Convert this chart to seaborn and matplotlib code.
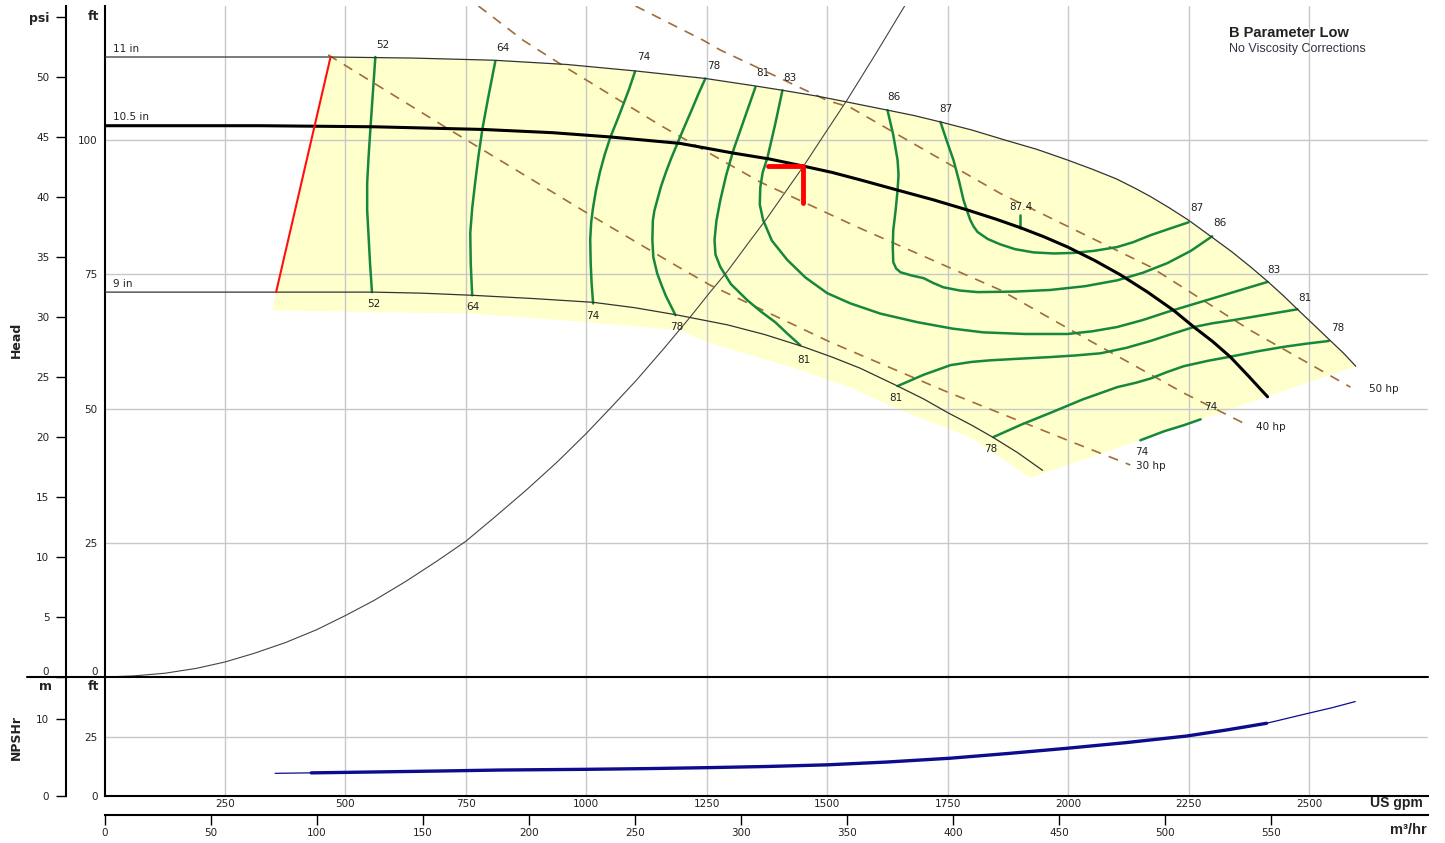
import matplotlib.pyplot as plt
import matplotlib.lines as mlines
import seaborn as sns

# =============================== #
# data (flow in US gpm, head in ft)
# =============================== #
imp11_q = [0, 470, 640, 807, 960, 1102, 1247, 1351, 1407, 1480, 1542, 1625, 1680, 1735, 1800, 1870, 1935,
           1999, 2050, 2100, 2140, 2171, 2210, 2250, 2296, 2340, 2380, 2414, 2446, 2476, 2510, 2545, 2572, 2597]
imp11_h = [115.5, 115.5, 115.3, 114.9, 114.1, 112.9, 111.5, 110.1, 109.3, 108.2, 107.1, 105.6, 104.6, 103.4,
           101.9, 100.0, 98.3, 96.3, 94.6, 92.8, 91.0, 89.5, 87.4, 85.1, 82.1, 79.2, 76.3, 73.7, 71.1, 68.5,
           65.6, 62.6, 60.3, 57.9]

imp105_q = [0, 323, 560, 786, 930, 1050, 1195, 1305, 1380, 1444, 1510, 1569, 1646, 1720, 1791, 1850, 1901,
            1950, 1999, 2055, 2109, 2165, 2219, 2261, 2300, 2337, 2375, 2414]
imp105_h = [102.7, 102.7, 102.5, 102.0, 101.4, 100.6, 99.4, 97.6, 96.5, 95.3, 94.0, 92.6, 90.7, 88.9, 87.0,
            85.3, 83.7, 82.0, 80.1, 77.6, 74.9, 71.7, 68.3, 65.2, 62.5, 59.6, 56.0, 52.2]

imp9_q = [0, 558, 660, 765, 890, 1014, 1100, 1185, 1293, 1370, 1451, 1510, 1569, 1646, 1700, 1749, 1800,
          1843, 1895, 1947]
imp9_h = [71.7, 71.7, 71.5, 71.1, 70.5, 69.8, 68.8, 67.5, 65.6, 63.8, 61.5, 59.6, 57.5, 54.2, 51.8, 49.3,
          46.9, 44.7, 41.8, 38.5]

minflow_q = [356, 469]
minflow_h = [71.7, 115.5]

# lower edge of the shaded region (right to left)
shade_low_q = [2597, 1921, 1800, 1652, 1550, 1444, 1340, 1251, 1195, 1029, 765, 348]
shade_low_h = [57.9, 37.1, 44.5, 49.7, 53.8, 57.2, 60.0, 62.4, 64.6, 65.9, 67.7, 68.3]

system_q = [0, 60, 125, 190, 250, 310, 375, 440, 501, 560, 625, 690, 750, 810, 875, 940, 999, 1050, 1103,
            1160, 1216, 1255, 1293, 1335, 1376, 1415, 1451, 1500, 1542, 1600, 1662]
system_h = [0, 0.2, 0.7, 1.6, 2.8, 4.4, 6.4, 8.8, 11.5, 14.3, 17.8, 21.6, 25.3, 29.8, 34.8, 40.1, 45.3,
            50.1, 55.2, 61.1, 67.1, 71.5, 75.6, 80.7, 85.6, 90.6, 95.2, 101.9, 107.6, 116.0, 125.2]

# efficiency contours
eff52_q = [562, 557, 552, 548, 545, 545, 548, 551, 555]
eff52_h = [115.5, 109.0, 102.5, 97.0, 92.0, 87.0, 82.0, 77.0, 71.7]
eff64_q = [811, 797, 784, 776, 769, 763, 759, 760, 763]
eff64_h = [114.7, 108.3, 102.0, 97.0, 92.0, 87.3, 82.7, 77.0, 71.1]
eff74_q = [1101, 1089, 1076, 1063, 1050, 1038, 1028, 1020, 1014, 1010, 1008, 1009, 1011, 1014]
eff74_h = [112.8, 109.6, 106.5, 103.5, 100.6, 97.3, 94.0, 90.7, 87.5, 84.7, 81.5, 77.0, 73.2, 69.6]
eff78_q = [1247, 1232, 1218, 1203, 1189, 1176, 1165, 1155, 1147, 1141, 1138, 1137, 1139, 1147, 1156, 1165,
           1175, 1185]
eff78_h = [111.5, 108.5, 105.5, 102.4, 99.4, 96.6, 94.0, 91.4, 88.8, 86.8, 85.0, 81.4, 78.2, 75.2, 73.0,
           71.0, 69.2, 67.4]
eff81_q = [1351, 1328, 1305, 1290, 1278, 1270, 1266, 1268, 1278, 1300, 1334, 1362, 1392, 1418, 1444]
eff81_h = [109.9, 104.0, 98.1, 93.4, 88.8, 85.0, 81.4, 78.7, 76.4, 73.2, 70.2, 68.1, 66.1, 63.9, 61.8]
eff83_q = [1407, 1392, 1376, 1366, 1361, 1360, 1367, 1385, 1417, 1455, 1500, 1548, 1610, 1687, 1760, 1824,
           1910, 1999, 2050, 2102, 2155, 2206, 2258, 2310, 2362, 2414]
eff83_h = [109.3, 103.0, 96.8, 94.0, 91.2, 88.0, 85.1, 81.3, 77.7, 74.4, 71.5, 69.6, 67.7, 66.1, 64.9, 64.2,
           63.9, 63.9, 64.4, 65.2, 66.5, 68.0, 69.4, 70.8, 72.2, 73.6]
eff86_q = [1625, 1637, 1646, 1648, 1646, 1642, 1637, 1636, 1637, 1643, 1652, 1675, 1700, 1720, 1741, 1775,
           1812, 1890, 1963, 2035, 2102, 2155, 2206, 2255, 2299]
eff86_h = [105.6, 101.0, 96.3, 93.5, 90.7, 87.0, 83.2, 80.2, 77.3, 76.1, 75.4, 74.8, 74.3, 73.4, 72.6, 72.0,
           71.7, 71.8, 72.1, 72.8, 73.9, 75.3, 77.1, 79.4, 82.1]
eff87_q = [1735, 1748, 1762, 1773, 1783, 1790, 1797, 1804, 1812, 1833, 1859, 1890, 1928, 1970, 2011, 2055,
           2102, 2135, 2171, 2210, 2250]
eff87_h = [103.4, 99.9, 96.3, 92.6, 88.8, 86.9, 85.1, 83.9, 82.9, 81.6, 80.6, 79.7, 79.1, 78.9, 79.0, 79.4,
           80.1, 81.0, 82.3, 83.5, 84.7]
eff874_q = [1901, 1901]
eff874_h = [86.0, 83.6]
eff81r_q = [1646, 1700, 1756, 1800, 1839, 1900, 1963, 2015, 2067, 2120, 2171, 2215, 2261, 2300, 2344, 2410, 2476]
eff81r_h = [54.2, 56.3, 58.1, 58.7, 59.0, 59.3, 59.6, 59.9, 60.3, 61.3, 62.6, 63.9, 65.2, 65.9, 66.5, 67.5, 68.5]
eff78r_q = [1845, 1905, 1963, 2030, 2102, 2140, 2171, 2205, 2240, 2290, 2344, 2395, 2447, 2495, 2541]
eff78r_h = [44.7, 47.1, 49.2, 51.7, 54.0, 54.8, 55.6, 56.8, 57.9, 58.9, 59.8, 60.7, 61.5, 62.1, 62.6]
eff74r_q = [2150, 2200, 2240, 2275]
eff74r_h = [44.1, 45.8, 46.9, 48.0]

eff_labels = ['52', '64', '74', '78', '81', '83', '86', '87', '87', '86', '83', '81', '78',
              '52', '64', '74', '78', '81', '81', '78', '74', '74', '87.4']
eff_label_q = [578, 827, 1120, 1264, 1366, 1423, 1639, 1747, 2268, 2316, 2428, 2492, 2559,
               558, 765, 1014, 1187, 1451, 1642, 1839, 2153, 2296, 1901]
eff_label_h = [117.7, 117.1, 115.5, 113.8, 112.5, 111.6, 108.0, 105.8, 87.4, 84.6, 75.8, 70.6, 65.0,
               69.5, 68.9, 67.2, 65.2, 59.1, 52.0, 42.5, 41.9, 50.3, 87.5]

# power lines
hp30_q = [464, 717, 1015, 1185, 1257, 1506, 1749, 1999, 2129]
hp30_h = [115.9, 101.9, 85.7, 76.7, 73.0, 62.4, 53.1, 44.1, 39.5]
hp40_q = [776, 869, 960, 1153, 1361, 1563, 1859, 2032, 2240, 2364]
hp40_h = [125.0, 118.6, 113.4, 102.8, 92.2, 83.8, 72.1, 63.3, 52.9, 47.3]
hp50_q = [1102, 1243, 1278, 1500, 1548, 1859, 2171, 2378, 2586]
hp50_h = [125.0, 118.6, 116.8, 107.4, 106.1, 90.1, 76.4, 64.6, 54.0]
hp_labels = ['30 hp', '40 hp', '50 hp']
hp_label_q = [2140, 2391, 2624]
hp_label_h = [39.3, 46.6, 53.6]

# duty point
duty_q = 1450
duty_h = 95.2
duty_q_left = 1376
duty_h_low = 88.3

# NPSHr
npsh_q = [354, 429, 500, 600, 700, 821, 1000, 1125, 1250, 1375, 1500, 1625, 1755, 1875, 1997, 2120, 2246,
          2330, 2412, 2455, 2498, 2550, 2596]
npsh_h = [9.6, 9.8, 10.0, 10.3, 10.6, 11.0, 11.3, 11.6, 12.0, 12.5, 13.2, 14.4, 16.0, 18.0, 20.2, 22.6, 25.4,
          28.0, 30.8, 32.9, 35.0, 37.5, 40.0]

gpm_ticks = [250, 500, 750, 1000, 1250, 1500, 1750, 2000, 2250, 2500]
m3h_ticks = [0, 50, 100, 150, 200, 250, 300, 350, 400, 450, 500, 550]
psi_ticks = [0, 5, 10, 15, 20, 25, 30, 35, 40, 45, 50, 55]
ft_ticks = [0, 25, 50, 75, 100]

# unit conversions used by the secondary scales
FT_PER_PSI = 2.2355
FT_PER_M = 3.2808
GPM_PER_M3H = 4.4029

# =============================== #
# style
# =============================== #
sns.set_theme(style="white")
plt.rcParams['font.family'] = ['DejaVu Sans']
plt.rcParams['font.size'] = 7.5

GREEN = '#17873d'
BROWN = '#a06c3c'
TXT = '#222222'
GRID = '#c8c8c8'
NAVY = '#0c0c8c'
SMALL = 7.5

W, H = 1445, 843
fig = plt.figure(figsize=(W / 100, H / 100), dpi=100)


def rect(x0, y0, x1, y1):
    return [x0 / W, 1 - y1 / H, (x1 - x0) / W, (y1 - y0) / H]


ax = fig.add_axes(rect(104.6, 6, 1428, 677))
axn = fig.add_axes(rect(104.6, 677, 1428, 796))


def curve(a, q, h, **kw):
    sns.lineplot(x=q, y=h, ax=a, sort=False, estimator=None, **kw)


# shaded operating region
shade_q = [348] + imp11_q[1:] + shade_low_q
shade_h = [68.3] + imp11_h[1:] + shade_low_h
ax.fill(shade_q, shade_h, color='#ffffcc', lw=0, zorder=0.2)

# power lines
for q, h in [(hp30_q, hp30_h), (hp40_q, hp40_h), (hp50_q, hp50_h)]:
    curve(ax, q, h, color=BROWN, linewidth=1.2, linestyle=(0, (6, 5)), zorder=2)
for s, q, h in zip(hp_labels, hp_label_q, hp_label_h):
    ax.text(q, h, s, ha='left', va='center', fontsize=SMALL, color=TXT)

# efficiency contours
eff_curves = [(eff52_q, eff52_h), (eff64_q, eff64_h), (eff74_q, eff74_h), (eff78_q, eff78_h),
              (eff81_q, eff81_h), (eff83_q, eff83_h), (eff86_q, eff86_h), (eff87_q, eff87_h),
              (eff874_q, eff874_h), (eff81r_q, eff81r_h), (eff78r_q, eff78r_h), (eff74r_q, eff74r_h)]
for q, h in eff_curves:
    curve(ax, q, h, color=GREEN, linewidth=1.8, zorder=3)
for s, q, h in zip(eff_labels, eff_label_q, eff_label_h):
    ax.text(q, h, s, ha='center', va='center', fontsize=SMALL, color=TXT, zorder=6)

# impeller curves
curve(ax, imp11_q, imp11_h, color='#333333', linewidth=0.9, zorder=3.5)
curve(ax, imp9_q, imp9_h, color='#333333', linewidth=0.9, zorder=3.5)
curve(ax, imp105_q, imp105_h, color='black', linewidth=2.2, zorder=3.6)
for s, h in [('11 in', 117.0), ('10.5 in', 104.3), ('9 in', 73.2)]:
    ax.text(17, h, s, ha='left', va='center', fontsize=SMALL, color=TXT)

# min flow, system curve, duty point
curve(ax, minflow_q, minflow_h, color='#ff1010', linewidth=1.5, zorder=4)
curve(ax, system_q, system_h, color='#444444', linewidth=0.8, zorder=4)
curve(ax, [duty_q_left, duty_q, duty_q], [duty_h, duty_h, duty_h_low], color='#ff0000',
      linewidth=3.5, zorder=5)

# main axes setup
ax.set_xlim(0, 2747)
ax.set_ylim(0, 125)
ax.set_xticks(gpm_ticks)
ax.set_xticklabels([])
ax.set_yticks(ft_ticks)
ax.set_yticklabels([str(t) for t in ft_ticks], color=TXT)
ax.tick_params(axis='both', length=0, labelsize=SMALL, pad=5)
ax.get_yticklabels()[0].set_va('bottom')
ax.grid(True, color=GRID, linewidth=1)
ax.set_axisbelow(True)
for sp in ['top', 'right', 'bottom']:
    ax.spines[sp].set_visible(False)
ax.spines['left'].set_color('black')
ax.spines['left'].set_linewidth(1.5)
ax.set_xlabel('')
ax.set_ylabel('')

# psi scale
psi = ax.secondary_yaxis((66 - 104.6) / 1323.4,
                         functions=(lambda f: f / FT_PER_PSI, lambda p: p * FT_PER_PSI))
psi.set_yticks(psi_ticks)
psi.set_yticklabels([str(t) for t in psi_ticks[:-1]] + ['psi'], color=TXT)
psi.tick_params(length=7, width=1, labelsize=SMALL, pad=5, color='black')
psi.get_yticklabels()[-1].set_fontweight('bold')
psi.get_yticklabels()[-1].set_fontsize(9)
psi.get_yticklabels()[0].set_va('bottom')
psi.spines['left'].set_linewidth(1.5)
psi.spines['left'].set_color('black')

# NPSHr panel
curve(axn, npsh_q, npsh_h, color=NAVY, linewidth=0.9, zorder=3)
thick_q = [q for q in npsh_q if 429 <= q <= 2412]
thick_h = [h for q, h in zip(npsh_q, npsh_h) if 429 <= q <= 2412]
curve(axn, thick_q, thick_h, color=NAVY, linewidth=2.4, zorder=3)
axn.set_xlim(0, 2747)
axn.set_ylim(0, 50.4)
axn.set_xticks(gpm_ticks)
axn.set_xticklabels([str(t) for t in gpm_ticks], color=TXT)
axn.set_yticks([0, 25])
axn.set_yticklabels(['0', '25'], color=TXT)
axn.tick_params(axis='y', length=0, labelsize=SMALL, pad=5)
axn.tick_params(axis='x', length=0, labelsize=SMALL, pad=2)
axn.grid(True, color=GRID, linewidth=1)
axn.set_axisbelow(True)
for sp in ['top', 'right']:
    axn.spines[sp].set_visible(False)
for sp in ['left', 'bottom']:
    axn.spines[sp].set_color('black')
    axn.spines[sp].set_linewidth(1.5)
axn.set_xlabel('')
axn.set_ylabel('')

msc = axn.secondary_yaxis((66 - 104.6) / 1323.4,
                          functions=(lambda f: f / FT_PER_M, lambda m: m * FT_PER_M))
msc.set_yticks([0, 10])
msc.set_yticklabels(['0', '10'], color=TXT)
msc.tick_params(length=7, width=1, labelsize=SMALL, pad=5, color='black')
msc.spines['left'].set_linewidth(1.5)
msc.spines['left'].set_color('black')

m3h = axn.secondary_xaxis((796 - 815) / 119,
                          functions=(lambda g: g / GPM_PER_M3H, lambda m: m * GPM_PER_M3H))
m3h.set_xticks(m3h_ticks)
m3h.set_xticklabels([str(t) for t in m3h_ticks], color=TXT)
m3h.tick_params(length=7, width=1, labelsize=SMALL, pad=2, color='black')
m3h.spines['bottom'].set_linewidth(1.5)
m3h.spines['bottom'].set_color('black')

# separator between the two panels
fig.add_artist(mlines.Line2D([27 / W, 1428 / W], [1 - 677 / H, 1 - 677 / H], color='black', lw=1.5))

# unit headers and titles
hdr = dict(fontsize=9, fontweight='bold', color=TXT, va='center')
fig.text(99 / W, 1 - 16 / H, 'ft', ha='right', **hdr)
fig.text(99 / W, 1 - 687 / H, 'ft', ha='right', **hdr)
fig.text(45 / W, 1 - 687 / H, 'm', ha='center', **hdr)
fig.text(16 / W, 1 - 340 / H, 'Head', rotation=90, ha='center', **hdr)
fig.text(16 / W, 1 - 737 / H, 'NPSHr', rotation=90, ha='center', **hdr)
fig.text(1396 / W, 1 - 803 / H, 'US gpm', ha='center', va='center', fontsize=10, fontweight='bold',
         color=TXT, family='Liberation Sans')
fig.text(1427 / W, 1 - 830 / H, 'm³/hr', ha='right', va='center', fontsize=10.5, fontweight='bold',
         color=TXT, family='Liberation Sans')
fig.text(1229 / W, 1 - 33 / H, 'B Parameter Low', ha='left', va='center', fontsize=10.5, fontweight='bold',
         color=TXT, family='Liberation Sans')
fig.text(1229 / W, 1 - 49 / H, 'No Viscosity Corrections', ha='left', va='center', fontsize=9,
         color='#333344', family='Liberation Sans')

fig.savefig('out.png', dpi=100)
